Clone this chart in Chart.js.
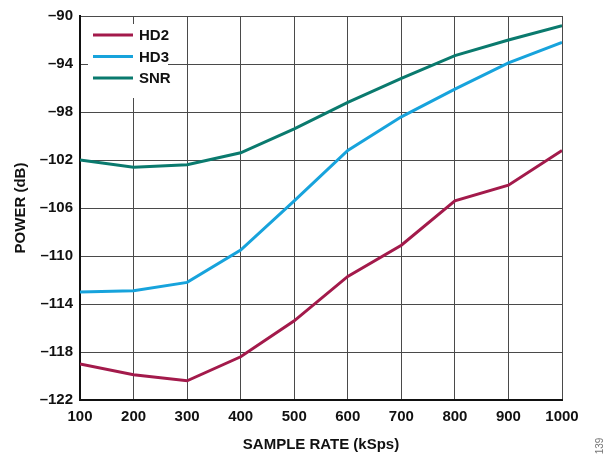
<!DOCTYPE html>
<html>
<head>
<meta charset="utf-8">
<script src="https://cdn.jsdelivr.net/npm/chart.js@4.4.0/dist/chart.umd.min.js"></script>
<style>
  html, body { margin: 0; padding: 0; background: #fff; }
  #wrap { width: 605px; height: 455px; position: relative; }
</style>
</head>
<body>
<div id="wrap"><canvas id="myChart" width="605" height="455"></canvas></div>
<script>
let sampleRates = [100, 200, 300, 400, 500, 600, 700, 800, 900, 1000];
let hd2 = [-119.0, -119.9, -120.4, -118.4, -115.4, -111.7, -109.1, -105.4, -104.1, -101.2];
let hd3 = [-113.0, -112.9, -112.2, -109.5, -105.4, -101.2, -98.4, -96.1, -93.9, -92.2];
let snr = [-102.0, -102.6, -102.4, -101.4, -99.4, -97.2, -95.2, -93.3, -92.0, -90.8];
let seriesNames = ["HD2", "HD3", "SNR"];
let colors = ['#A31A4B', '#17A3DC', '#0A7A6E'];

let font = "'Liberation Sans', Arial, sans-serif";

function pts(vals) {
    return vals.map((v, i) => ({ x: sampleRates[i], y: v }));
}

// legend drawn inside the plot, top-left, on a white box
let insideLegend = {
    id: 'insideLegend',
    afterDraw(chart) {
        let ctx = chart.ctx;
        let a = chart.chartArea;
        ctx.save();
        ctx.fillStyle = '#fff';
        ctx.fillRect(a.left + 8, a.top + 8, 80, 74);
        ctx.font = 'bold 15px ' + font;
        ctx.textBaseline = 'middle';
        chart.data.datasets.forEach((ds, i) => {
            let y = a.top + 19 + i * 21.5;
            ctx.strokeStyle = ds.borderColor;
            ctx.lineWidth = 3;
            ctx.beginPath();
            ctx.moveTo(a.left + 13, y);
            ctx.lineTo(a.left + 53, y);
            ctx.stroke();
            ctx.fillStyle = '#111';
            ctx.fillText(ds.label, a.left + 59, y + 1);
        });
        ctx.restore();
    }
};

// little figure number at the bottom right
let figNum = {
    id: 'figNum',
    afterDraw(chart) {
        let ctx = chart.ctx;
        ctx.save();
        ctx.translate(600, 446);
        ctx.rotate(-Math.PI / 2);
        ctx.font = '10px ' + font;
        ctx.fillStyle = '#777';
        ctx.textAlign = 'center';
        ctx.textBaseline = 'middle';
        ctx.fillText('139', 0, 0);
        ctx.restore();
    }
};

let chart1 = new Chart(document.getElementById("myChart").getContext('2d'), {
    type: 'line',
    data: {
        datasets: [{
            label: seriesNames[0],
            data: pts(hd2),
            borderColor: colors[0]
        }, {
            label: seriesNames[1],
            data: pts(hd3),
            borderColor: colors[1]
        }, {
            label: seriesNames[2],
            data: pts(snr),
            borderColor: colors[2]
        }]
    },
    options: {
        responsive: false,
        animation: false,
        layout: { padding: { top: 14, right: 43, left: 0, bottom: 0 } },
        elements: {
            line: { borderWidth: 3, tension: 0 },
            point: { radius: 0 }
        },
        plugins: {
            legend: { display: false },
            tooltip: { enabled: false }
        },
        scales: {
            x: {
                type: 'linear',
                min: 100,
                max: 1000,
                ticks: {
                    stepSize: 100,
                    color: '#111',
                    font: { family: font, size: 15, weight: 'bold' },
                    padding: 8,
                    maxRotation: 0,
                    callback: v => String(v)
                },
                grid: { color: '#4a4a4a', lineWidth: 1, drawTicks: false },
                border: { color: '#111', width: 2 },
                title: {
                    display: true,
                    text: 'SAMPLE RATE (kSps)',
                    color: '#111',
                    font: { family: font, size: 15, weight: 'bold' },
                    padding: { top: 8, bottom: 1 }
                },
                afterFit(scale) { scale.height = 55; }
            },
            y: {
                min: -122,
                max: -90,
                ticks: {
                    stepSize: 4,
                    color: '#111',
                    font: { family: font, size: 15, weight: 'bold' },
                    padding: 7,
                    callback: v => String(v).replace('-', '\u2013')
                },
                grid: { color: '#4a4a4a', lineWidth: 1, drawTicks: false },
                border: { color: '#111', width: 2 },
                title: {
                    display: true,
                    text: 'POWER (dB)',
                    color: '#111',
                    font: { family: font, size: 15, weight: 'bold' },
                    padding: { top: 12, bottom: 4 }
                },
                afterFit(scale) { scale.width = 80; }
            }
        }
    },
    plugins: [insideLegend, figNum]
});
</script>
</body>
</html>
